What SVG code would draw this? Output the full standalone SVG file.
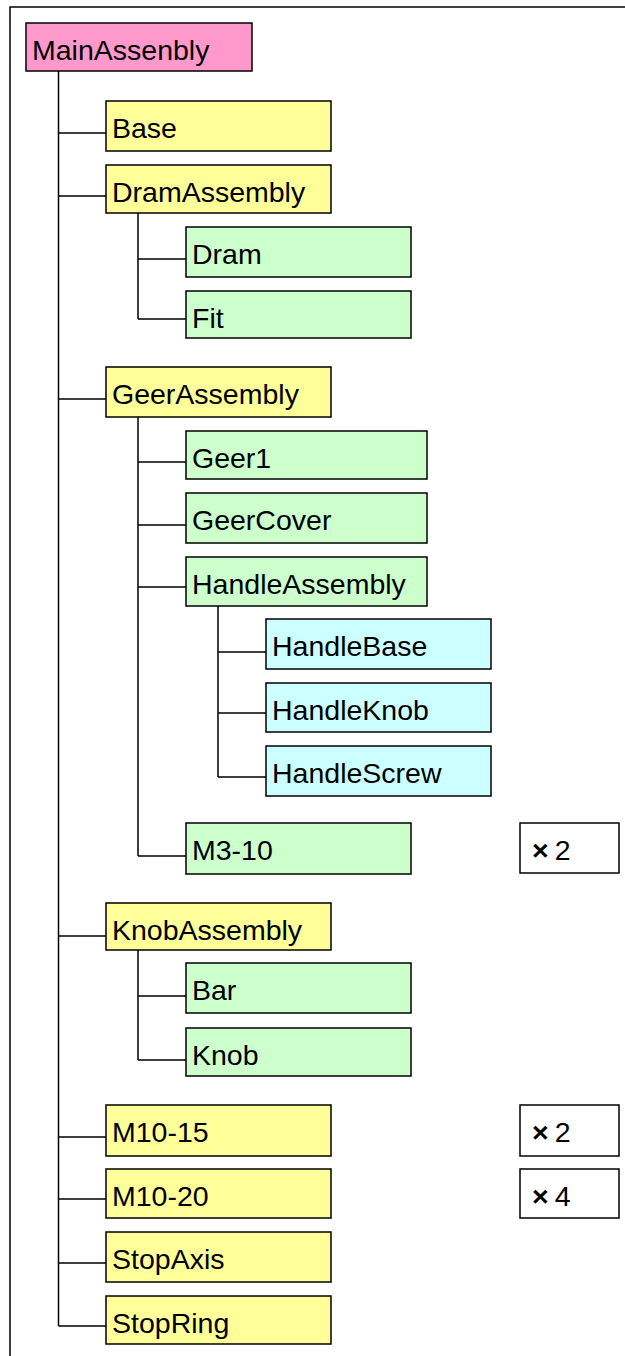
<svg xmlns="http://www.w3.org/2000/svg" width="625" height="1356" viewBox="0 0 625 1356">
<style>
.b{stroke:#000;stroke-width:1.5}
.p{fill:#FF99CC}.y{fill:#FFFF99}.g{fill:#CCFFCC}.c{fill:#CCFFFF}.w{fill:#FFFFFF}
text{font-family:"Liberation Sans",Arial,sans-serif;font-size:28.5px;fill:#000}
.x{font-weight:bold}
.l{fill:none;stroke:#000;stroke-width:1.5}
</style>
<rect width="625" height="1356" fill="#fff"/>
<path d="M10,1356 V7 H625" class="l" stroke-width="2"/>
<g id="connectors" class="l">
<path d="M58.5,71 V1326"/>
<path d="M58.5,133 H106 M58.5,196 H106 M58.5,399 H106 M58.5,936 H106 M58.5,1137 H106 M58.5,1199 H106 M58.5,1263 H106 M58.5,1326 H106"/>
<path d="M138,213 V319 M138,259 H186 M138,319 H186"/>
<path d="M138,417 V856 M138,462 H186 M138,525 H186 M138,587 H186 M138,856 H186"/>
<path d="M218,606 V777 M218,652 H266 M218,713 H266 M218,777 H266"/>
<path d="M138,950 V1060 M138,996 H186 M138,1060 H186"/>
</g>
<g id="MainAssembly"><rect class="b p" x="26" y="23" width="226" height="48"/><text x="32" y="60">MainAssenbly</text></g>
<g id="Base"><rect class="b y" x="106" y="101" width="225" height="50"/><text x="112" y="138">Base</text></g>
<g id="DramAssembly"><rect class="b y" x="106" y="165" width="225" height="48"/><text x="112" y="202">DramAssembly</text></g>
<g id="Dram"><rect class="b g" x="186" y="227" width="225" height="50"/><text x="192" y="264">Dram</text></g>
<g id="Fit"><rect class="b g" x="186" y="291" width="225" height="47"/><text x="192" y="328">Fit</text></g>
<g id="GeerAssembly"><rect class="b y" x="106" y="367" width="225" height="50"/><text x="112" y="404">GeerAssembly</text></g>
<g id="Geer1"><rect class="b g" x="186" y="431" width="241" height="48"/><text x="192" y="468">Geer1</text></g>
<g id="GeerCover"><rect class="b g" x="186" y="493" width="241" height="50"/><text x="192" y="530">GeerCover</text></g>
<g id="HandleAssembly"><rect class="b g" x="186" y="557" width="241" height="49"/><text x="192" y="594">HandleAssembly</text></g>
<g id="HandleBase"><rect class="b c" x="266" y="619" width="225" height="50"/><text x="272" y="656">HandleBase</text></g>
<g id="HandleKnob"><rect class="b c" x="266" y="683" width="225" height="49"/><text x="272" y="720">HandleKnob</text></g>
<g id="HandleScrew"><rect class="b c" x="266" y="746" width="225" height="50"/><text x="272" y="783">HandleScrew</text></g>
<g id="M3-10"><rect class="b g" x="186" y="823" width="225" height="51"/><text x="192" y="860">M3-10</text></g>
<g id="qty-M3-10"><rect class="b w" x="520" y="823" width="99" height="50"/><text x="532" y="860"><tspan class="x">×</tspan><tspan dx="6">2</tspan></text></g>
<g id="KnobAssembly"><rect class="b y" x="106" y="903" width="225" height="47"/><text x="112" y="940">KnobAssembly</text></g>
<g id="Bar"><rect class="b g" x="186" y="963" width="225" height="50"/><text x="192" y="1000">Bar</text></g>
<g id="Knob"><rect class="b g" x="186" y="1028" width="225" height="48"/><text x="192" y="1065">Knob</text></g>
<g id="M10-15"><rect class="b y" x="106" y="1105" width="225" height="51"/><text x="112" y="1142">M10-15</text></g>
<g id="qty-M10-15"><rect class="b w" x="520" y="1105" width="99" height="51"/><text x="532" y="1142"><tspan class="x">×</tspan><tspan dx="6">2</tspan></text></g>
<g id="M10-20"><rect class="b y" x="106" y="1169" width="225" height="49"/><text x="112" y="1206">M10-20</text></g>
<g id="qty-M10-20"><rect class="b w" x="520" y="1169" width="99" height="49"/><text x="532" y="1206"><tspan class="x">×</tspan><tspan dx="6">4</tspan></text></g>
<g id="StopAxis"><rect class="b y" x="106" y="1232" width="225" height="50"/><text x="112" y="1269">StopAxis</text></g>
<g id="StopRing"><rect class="b y" x="106" y="1296" width="225" height="48"/><text x="112" y="1333">StopRing</text></g>
</svg>
